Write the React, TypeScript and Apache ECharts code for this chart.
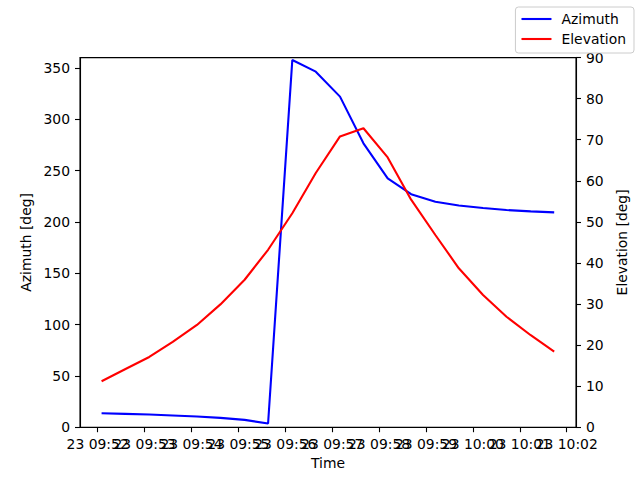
import { useEffect, useRef } from "react";
import * as echarts from "echarts";

// sample times (hh:mm:ss on day 23)
const times = [
  "09:52:05", "09:52:35", "09:53:06", "09:53:36", "09:54:07",
  "09:54:37", "09:55:08", "09:55:38", "09:56:09", "09:56:39",
  "09:57:10", "09:57:40", "09:58:11", "09:58:41", "09:59:12",
  "09:59:42", "10:00:13", "10:00:43", "10:01:14", "10:01:44",
];

const azimuth = [
  13.6, 13.0, 12.3, 11.4, 10.4, 9.1, 7.1, 3.6, 357.7, 346.3,
  322.0, 276.5, 242.4, 227.0, 219.6, 216.0, 213.5, 211.5, 210.2, 209.2,
];

const elevation = [
  11.2, 14.1, 17.1, 20.8, 24.9, 29.9, 35.9, 43.2, 52.1, 61.9,
  70.8, 72.8, 65.7, 55.4, 46.8, 38.7, 32.2, 26.9, 22.4, 18.4,
];

const timeTicks = [
  "09:52", "09:53", "09:54", "09:55", "09:56", "09:57",
  "09:58", "09:59", "10:00", "10:01", "10:02",
];
const dayLabel = "23";
const azTicks = [0, 50, 100, 150, 200, 250, 300, 350];

const FONT = "DejaVu Sans";

// seconds since 09:52:00
function toSec(t: string) {
  const p = t.split(":").map(Number);
  return (p[0] - 9) * 3600 + (p[1] - 52) * 60 + (p[2] || 0);
}

export default function App() {
  const chartRef = useRef<HTMLDivElement>(null);

  useEffect(() => {
    if (!chartRef.current) return;
    const chart = echarts.init(chartRef.current, null, { renderer: "svg" });

    const xMin = -22.6;
    const xMax = 611.9;
    const tickSecs = timeTicks.map((t) => toSec(t + ":00"));
    // blank labels at both ends so that no real label is treated as min/max
    const labelSecs = [xMin + 0.01, ...tickSecs, xMax - 0.01];
    const labelOf = (v: number) => {
      const i = tickSecs.findIndex((s) => Math.abs(s - v) < 0.5);
      return i >= 0 ? `${dayLabel} ${timeTicks[i]}` : "";
    };

    const axisText = { color: "#000", fontFamily: FONT, fontSize: 13.9 };
    const tick = { show: true, length: 5, lineStyle: { color: "#000", width: 1.1 } };
    const line = { show: true, onZero: false, lineStyle: { color: "#000", width: 1.1 } };

    chart.setOption({
      animation: false,
      textStyle: { fontFamily: FONT },
      grid: {
        left: 80,
        right: 64,
        top: 57.6,
        bottom: 52.8,
        show: true,
        borderColor: "#000",
        borderWidth: 1.1,
        backgroundColor: "transparent",
      },
      legend: {
        orient: "vertical",
        right: 6,
        top: 7,
        itemWidth: 30,
        itemHeight: 14,
        itemGap: 6,
        padding: [5, 8, 7, 5],
        backgroundColor: "rgba(255,255,255,0.8)",
        borderColor: "#cccccc",
        borderWidth: 1,
        borderRadius: 3,
        itemStyle: { opacity: 0 },
        lineStyle: { width: 2.1 },
        textStyle: { ...axisText, padding: [0, 0, 0, 5] },
        data: ["Azimuth", "Elevation"],
      },
      xAxis: {
        type: "value",
        min: xMin,
        max: xMax,
        name: "Time",
        nameLocation: "middle",
        nameGap: 27,
        nameTextStyle: axisText,
        axisLine: line,
        axisTick: { ...tick, customValues: tickSecs },
        axisLabel: {
          ...axisText,
          margin: 10,
          hideOverlap: false,
          showMinLabel: true,
          showMaxLabel: true,
          customValues: labelSecs,
          formatter: (v: number) => labelOf(v),
        },
        splitLine: { show: false },
      },
      yAxis: [
        {
          type: "value",
          min: 0,
          max: 360,
          name: "Azimuth [deg]",
          nameLocation: "middle",
          nameGap: 43,
          nameTextStyle: axisText,
          axisLine: line,
          axisTick: { ...tick, customValues: azTicks },
          axisLabel: { ...axisText, margin: 10, customValues: azTicks },
          splitLine: { show: false },
        },
        {
          type: "value",
          min: 0,
          max: 90,
          interval: 10,
          position: "right",
          name: "Elevation [deg]",
          nameLocation: "middle",
          nameGap: 31,
          nameTextStyle: axisText,
          axisLine: line,
          axisTick: tick,
          axisLabel: { ...axisText, margin: 10 },
          splitLine: { show: false },
        },
      ],
      series: [
        {
          name: "Azimuth",
          type: "line",
          yAxisIndex: 0,
          symbol: "none",
          color: "#0000ff",
          lineStyle: { color: "#0000ff", width: 2.1 },
          data: times.map((t, i) => [toSec(t), azimuth[i]]),
        },
        {
          name: "Elevation",
          type: "line",
          yAxisIndex: 1,
          symbol: "none",
          color: "#ff0000",
          lineStyle: { color: "#ff0000", width: 2.1 },
          data: times.map((t, i) => [toSec(t), elevation[i]]),
        },
      ],
    });

    return () => {
      chart.dispose();
    };
  }, []);

  return (
    <div
      ref={chartRef}
      style={{ position: "absolute", left: 0, top: 0, width: 640, height: 480, background: "#fff" }}
    />
  );
}
